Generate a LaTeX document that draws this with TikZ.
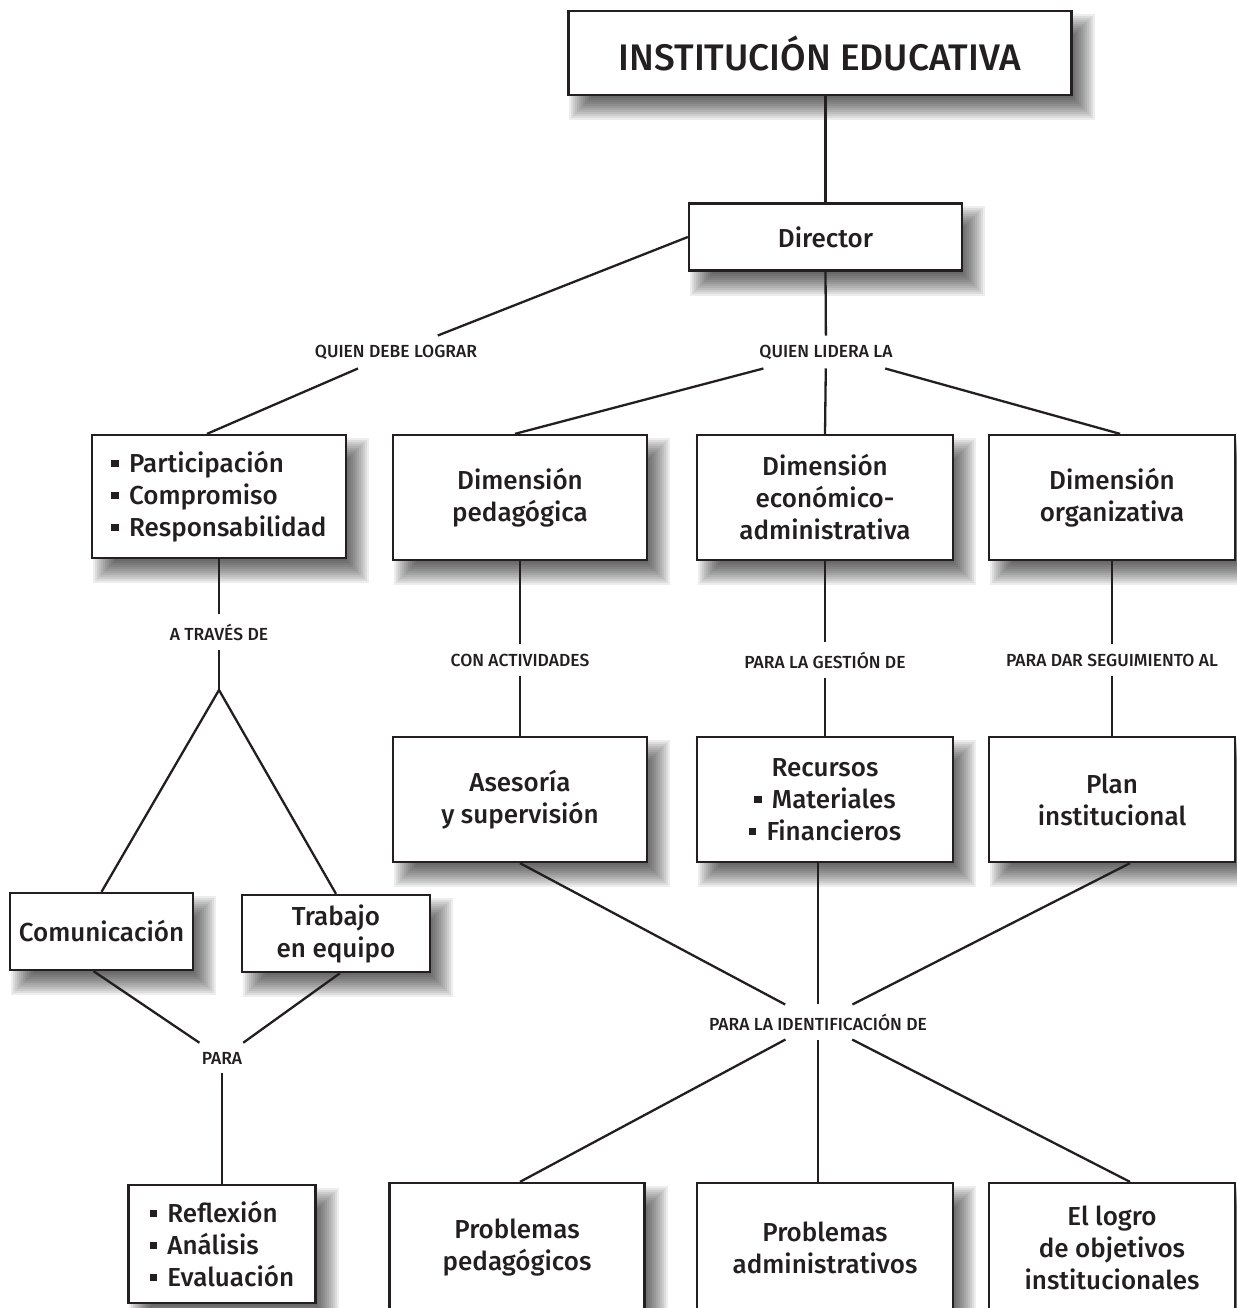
\documentclass[tikz,border=0pt]{standalone}
\usepackage{fontspec}
\setmainfont{Fira Sans}[UprightFont=* Medium]
\usetikzlibrary{backgrounds}
\definecolor{ink}{RGB}{35,31,32}
% small square bullet used in the lists
\newcommand\bsq{\rule[0.2em]{0.28em}{0.28em}\hspace{0.4em}}
% soft shadow below and right of a box: stacked translucent rectangles
\newcommand\boxshadow[1]{%
  \foreach \e in {10,8,...,-14}{%
    \fill[black, opacity=0.07]
      ([shift={(12-\e,14-\e)}]#1.north west) rectangle ([shift={(12+\e,14+\e)}]#1.south east);}}
\begin{document}
\begin{tikzpicture}[x=1pt,y=-1pt,
  box/.style={draw=ink, line width=2.3pt, fill=white, inner sep=0pt, align=center,
    text=ink, font=\fontsize{26}{32}\selectfont},
  lbl/.style={text=ink, font=\fontsize{17.5}{20}\selectfont, inner xsep=4pt, inner ysep=9pt},
  link/.style={line width=2.3pt, draw=ink}]
\useasboundingbox (0,0) rectangle (1236,1308);
\clip (0,0) rectangle (1236,1308);

% boxes
\node[box, minimum width=503pt, minimum height=84pt, font=\fontsize{37}{40}\selectfont]
  (top) at (820,53) {INSTITUCIÓN EDUCATIVA};
\node[box, minimum width=273pt, minimum height=67pt] (dir) at (825.5,237) {Director};

\node[box, minimum width=254pt, minimum height=123pt, align=left] (part) at (219,496.5)
  {\bsq Participación\\ \bsq Compromiso\\ \bsq Responsabilidad};
\node[box, minimum width=254pt, minimum height=125pt] (dped) at (520,497.5)
  {Dimensión\\pedagógica};
\node[box, minimum width=256pt, minimum height=125pt] (deco) at (825,497.5)
  {Dimensión\\económico-\\administrativa};
\node[box, minimum width=246pt, minimum height=125pt] (dorg) at (1112,497.5)
  {Dimensión\\organizativa};

\node[box, minimum width=254pt, minimum height=125pt] (ases) at (520,799.5)
  {Asesoría\\y supervisión};
\node[box, minimum width=256pt, minimum height=125pt] (recu) at (825,799.5)
  {Recursos\\ \bsq Materiales\\ \bsq Financieros};
\node[box, minimum width=246pt, minimum height=125pt] (plan) at (1112,799.5)
  {Plan\\institucional};

\node[box, minimum width=183pt, minimum height=77pt] (comu) at (101.5,931.5) {Comunicación};
\node[box, minimum width=188pt, minimum height=77pt] (trab) at (336,933.5) {Trabajo\\en equipo};

\node[box, minimum width=187pt, minimum height=118pt, align=left] (refl) at (222,1244)
  {\bsq Reflexión\\ \bsq Análisis\\ \bsq Evaluación};
\node[box, minimum width=255pt, minimum height=130pt] (ppeda) at (517,1248)
  {Problemas\\pedagógicos};
\node[box, minimum width=256pt, minimum height=130pt] (padmi) at (825,1248)
  {Problemas\\administrativos};
\node[box, minimum width=246pt, minimum height=130pt] (logro) at (1112,1248)
  {El logro\\de objetivos\\institucionales};

% shadows behind the boxes
\begin{scope}[on background layer]
  \foreach \b in {top,dir,part,dped,deco,dorg,ases,recu,plan,comu,trab,refl,ppeda,padmi,logro}
    {\boxshadow{\b}}
\end{scope}

% connector labels
\node[lbl] (qdl) at (396,352) {QUIEN DEBE LOGRAR};
\node[lbl] (qll) at (826,352) {QUIEN LIDERA LA};
\node[lbl] (atd) at (219,632) {A TRAVÉS DE};
\node[lbl] (cact) at (520,660) {CON ACTIVIDADES};
\node[lbl] (pges) at (825,660) {PARA LA GESTIÓN DE};
\node[lbl] (pdar) at (1112,660) {PARA DAR SEGUIMIENTO AL};
\node[lbl] (pid) at (818,1022) {PARA LA IDENTIFICACIÓN DE};
\node[lbl] (para) at (222,1058) {PARA};
\coordinate (apex) at (219,690);

% connectors
\draw[link] (dir.north) -- (dir.north |- top.south);
\draw[link] (dir.south) -- (qll);
\draw[link] (dir.west) -- (qdl);
\draw[link] (qdl) -- ([xshift=-12pt]part.north);
\draw[link] (qll) -- ([xshift=-5pt]dped.north);
\draw[link] (qll) -- (deco.north);
\draw[link] (qll) -- ([xshift=8pt]dorg.north);

\draw[link] (part.south) -- (atd);
\draw[link] (atd) -- (apex);
\draw[link] (apex) -- (comu.north);
\draw[link] (apex) -- (trab.north);
\draw[link] ([xshift=-8pt]comu.south) -- (para);
\draw[link] ([xshift=4pt]trab.south) -- (para);
\draw[link] (para) -- (refl.north);

\draw[link] (dped.south) -- (cact);
\draw[link] (cact) -- (ases.north);
\draw[link] (deco.south) -- (pges);
\draw[link] (pges) -- (recu.north);
\draw[link] (dorg.south) -- (pdar);
\draw[link] (pdar) -- (plan.north);

\draw[link] (ases.south) -- (pid);
\draw[link] ([xshift=-7pt]recu.south) -- (pid);
\draw[link] ([xshift=18pt]plan.south) -- (pid);
\draw[link] (pid) -- ([xshift=3pt]ppeda.north);
\draw[link] (pid) -- ([xshift=-7pt]padmi.north);
\draw[link] (pid) -- ([xshift=18pt]logro.north);
\end{tikzpicture}
\end{document}
